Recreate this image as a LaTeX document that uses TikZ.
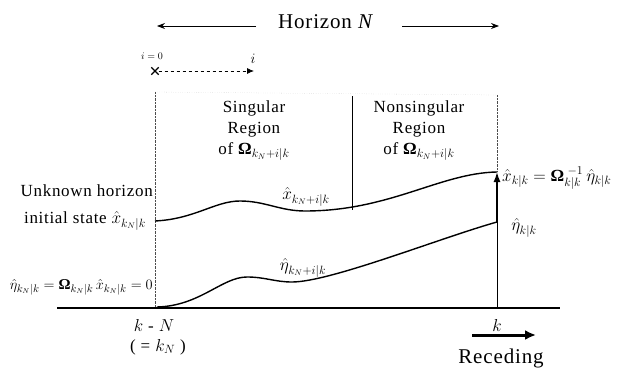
\documentclass[tikz,border=0pt]{standalone}
\usepackage{fontspec}
\setmainfont{Liberation Serif}[LetterSpace=4]
\usetikzlibrary{arrows.meta}
\newcommand{\BOm}{\mbox{\bfseries Ω}}
\begin{document}
\begin{tikzpicture}[x=1pt,y=-1pt,
  lbl/.style={inner sep=0pt, font=\fontsize{17}{21}\selectfont},
  eq/.style={inner sep=0pt, font=\fontsize{15}{18}\selectfont},
  big/.style={inner sep=0pt, font=\fontsize{21}{24}\selectfont},
  region/.style={inner sep=0pt, align=center, font=\fontsize{17}{21}\selectfont},
  curve/.style={line width=1.4pt},
  guide/.style={densely dotted, line width=0.4pt, black!70},
  faint/.style={dotted, line width=0.3pt, black!35},
  harrow/.style={line width=0.8pt, -{Stealth[length=8pt,width=6pt]}},
  thickarrow/.style={line width=1.5pt, -{Latex[length=10pt,width=7pt]}},
  recarrow/.style={line width=3pt, -{Latex[length=11pt,width=10pt]}},
]
\useasboundingbox (0,0) rectangle (627,372);

% Horizon
\node[big] (hor) at (326,22) {Horizon \textit{N}};
\coordinate (hla) at (256,26); \coordinate (hlb) at (157,26);
\coordinate (hra) at (402,26); \coordinate (hrb) at (499,26);
\draw[harrow] (hla) -- (hlb);
\draw[harrow] (hra) -- (hrb);

% i = 0 ... i
\node[inner sep=0pt, font=\fontsize{10}{12}\selectfont] (izero) at (152,56) {$i=0$};
\node[inner sep=0pt, font=\fontsize{14}{16}\selectfont] (ilbl) at (253,59) {$i$};
\node[inner sep=1pt, minimum size=7pt] (cross) at (155,71) {};
\draw[line width=1.2pt] (cross.north west) -- (cross.south east);
\draw[line width=1.2pt] (cross.north east) -- (cross.south west);
\coordinate (iend) at (254,71);
\draw[dashed, line width=0.8pt, -{Latex[length=7pt,width=6pt]}] (cross) -- (iend);

% guide lines
\coordinate (gl0) at (155,92); \coordinate (gl1) at (155,308);
\coordinate (gm0) at (352,96); \coordinate (gm1) at (352,210);
\coordinate (gr0) at (497,95); \coordinate (gr1) at (497,172);
\coordinate (gr2) at (497,222); \coordinate (gr3) at (497,308);
\draw[guide] (gl0) -- (gl1);
\draw[faint] (gl0) -- (gr0);
\draw[line width=0.5pt] (gm0) -- (gm1);
\draw[guide] (gr0) -- (gr1);
\draw[line width=0.5pt] (gr2) -- (gr3);

% baseline
\coordinate (b0) at (57,308); \coordinate (b1) at (560,308);
\draw[line width=1.2pt] (b0) -- (b1);

% upper curve x-hat
\coordinate (u0) at (155,221);
\draw[curve] (u0) .. controls (195,219) and (215,201) .. (240,201)
  .. controls (265,201) and (280,211) .. (305,211)
  .. controls (390,211) and (440,173) .. (gr1);

% lower curve eta-hat
\coordinate (l0) at (157,307);
\draw[curve] (l0) .. controls (200,306) and (222,277) .. (247,277)
  .. controls (265,277) and (275,282) .. (292,282)
  .. controls (330,282) and (440,238) .. (gr2);

% vertical arrow
\draw[thickarrow] (gr2) -- (gr1);

% region texts
\node[region] (sing) at (254,131) {Singular\\Region\\of $\BOm_{k_N+i|k}$};
\node[region] (nons) at (419,131) {Nonsingular\\Region\\of $\BOm_{k_N+i|k}$};

% curve labels
\node[lbl] (xlab) at (306,197) {$\hat{x}_{k_N+i|k}$};
\node[lbl] (elab) at (303,268) {$\hat{\eta}_{k_N+i|k}$};

% left labels
\node[lbl, anchor=east] (unk) at (153,191) {Unknown horizon};
\node[lbl, anchor=east] (init) at (146,221) {initial state $\hat{x}_{k_N|k}$};
\node[eq, anchor=east] (eta0) at (153,287) {$\hat{\eta}_{k_N|k} = \BOm_{k_N|k}\,\hat{x}_{k_N|k} = 0$};

% right labels
\node[lbl, anchor=west] (xk) at (502,178) {$\hat{x}_{k|k} = \BOm_{k|k}^{\;-1}\,\hat{\eta}_{k|k}$};
\node[lbl] (ek) at (524,228) {$\hat{\eta}_{k|k}$};

% axis labels
\node[lbl] (kN) at (154,325) {$k$ - $N$};
\node[lbl] (kN2) at (158,347) {( = $k_N$ )};
\node[lbl] (kk) at (497,325) {$k$};

% receding
\coordinate (r0) at (472,335); \coordinate (r1) at (536,335);
\draw[recarrow] (r0) -- (r1);
\node[big] (rec) at (501,358) {Receding};
\end{tikzpicture}
\end{document}
